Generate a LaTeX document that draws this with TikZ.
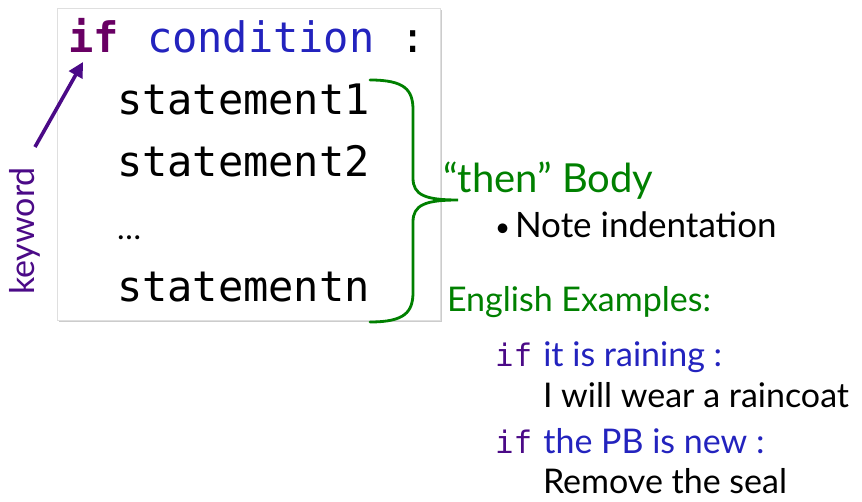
\documentclass[tikz,border=0pt]{standalone}
\usepackage{fontspec}
\setmainfont{Lato}
\setmonofont{DejaVu Sans Mono}
\usepackage{xcolor}
\usetikzlibrary{arrows.meta, positioning, shadows}

\definecolor{kwpurple}{RGB}{105,0,100}
\definecolor{condblue}{RGB}{35,35,190}
\definecolor{bodygreen}{RGB}{0,128,0}
\definecolor{argpurple}{RGB}{75,10,135}

\begin{document}
\begin{tikzpicture}[
    x=1pt, y=-1pt,
    every node/.style={inner sep=0pt, outer sep=0pt},
    code/.style={font=\fontsize{42}{42}\selectfont\ttfamily, anchor=base west},
    codebox/.style={draw=gray!25, fill=white, line width=0.8pt,
                    drop shadow={shadow xshift=1.5pt, shadow yshift=-2.5pt, opacity=0.4}},
    note/.style={font=\fontsize{35}{35}\selectfont, anchor=base west},
    example/.style={font=\fontsize{34}{34}\selectfont, anchor=base west},
    exkw/.style={font=\fontsize{31}{31}\selectfont\ttfamily, text=argpurple, anchor=base west},
    brace/.style={draw=bodygreen, line width=2.8pt, line cap=round},
    arrow/.style={-{Triangle[length=15pt, width=15pt]}, line width=3.6pt, draw=argpurple},
]
\useasboundingbox (0,0) rectangle (862,502);

% Code box
\node[codebox, minimum width=383pt, minimum height=312pt, anchor=north west] (box) at (57,8) {};

% Code lines
\node[code, text=kwpurple, font=\fontsize{42}{42}\selectfont\ttfamily\bfseries] (kwif) at (68,53) {if};
\node[code, text=condblue] (cond) at (147,53) {condition};
\node[code] (colon) at (400,53) {:};
\node[code] (stmt1) at (117,115) {statement1};
\node[code] (stmt2) at (117,177) {statement2};
\node[code, font=\fontsize{32}{32}\selectfont] (dots) at (117,240) {\dots};
\node[code] (stmtn) at (117,302) {statementn};

% Keyword label and arrow
\node[font=\fontsize{34}{34}\selectfont, text=argpurple, rotate=90] (kwlabel) at (25,231) {keyword};
\coordinate (kwtail) at (35,147);
\coordinate (kwhead) at (83,62);
\draw[arrow] (kwtail) -- (kwhead);

% Brace
\coordinate (btop) at (370,80);
\coordinate (btip) at (458,200);
\coordinate (bbot) at (370,322);
\draw[brace] (btop) .. controls (405,80) and (413,90) .. (413,110)
    -- (413,178) .. controls (413,195) and (425,200) .. (btip)
    .. controls (425,200) and (413,205) .. (413,222)
    -- (413,292) .. controls (413,312) and (405,322) .. (bbot);

% Body notes
\node[font=\fontsize{40}{40}\selectfont, text=bodygreen, anchor=base west] (body) at (443,193) {``then'' Body};
\node[font=\fontsize{26}{26}\selectfont, anchor=base west] (bullet) at (495,237) {\textbullet};
\node[note] (indent) at (515,238) {Note indentation};

% English examples
\node[example, text=bodygreen] (english) at (447,312) {English Examples:};
\node[exkw] (ex1if) at (495,367) {if};
\node[example, text=condblue, right=11pt of ex1if.base east, anchor=base west] (ex1cond) {it is raining :};
\node[example] (ex1body) at (543,407) {I will wear a raincoat};
\node[exkw] (ex2if) at (495,453) {if};
\node[example, text=condblue, right=11pt of ex2if.base east, anchor=base west] (ex2cond) {the PB is new :};
\node[example] (ex2body) at (543,493) {Remove the seal};

\end{tikzpicture}
\end{document}
